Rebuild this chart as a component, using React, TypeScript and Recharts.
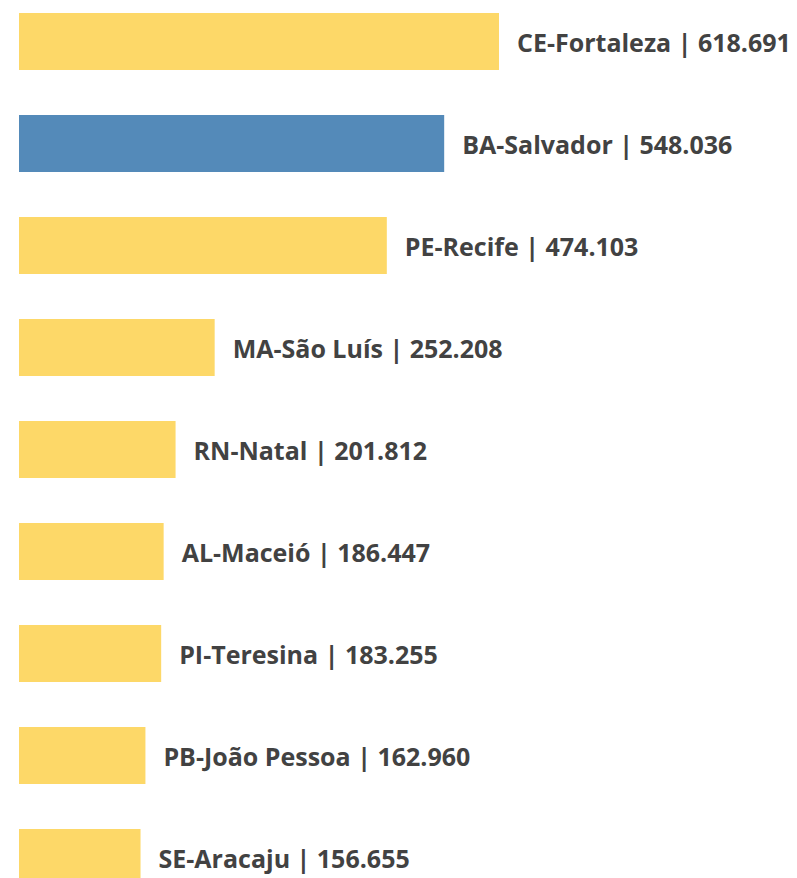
import React from 'react';
import { BarChart, Bar, XAxis, YAxis, Cell, LabelList } from 'recharts';

const cities = ['CE-Fortaleza', 'BA-Salvador', 'PE-Recife', 'MA-São Luís', 'RN-Natal', 'AL-Maceió', 'PI-Teresina', 'PB-João Pessoa', 'SE-Aracaju'];
const values = [618691, 548036, 474103, 252208, 201812, 186447, 183255, 162960, 156655];
const highlight = 'BA-Salvador';

const YELLOW = '#FDD868';
const BLUE = '#548AB9';

const fmt = (v: number) => String(v).replace(/\B(?=(\d{3})+(?!\d))/g, '.');

const data = cities.map((name, i) => ({ name, value: values[i] }));
const maxVal = Math.max(...values);

const renderLabel = (props: any) => {
  const { x, y, width, height, index } = props;
  const d = data[index];
  return (
    <text
      x={x + width + 18}
      y={y + height / 2}
      dominantBaseline="central"
      fill="#424242"
      fontFamily="'Open Sans', sans-serif"
      fontWeight={700}
      fontSize={25}
    >
      {`${d.name} | ${fmt(d.value)}`}
    </text>
  );
};

export default function App() {
  return (
    <div style={{ position: 'fixed', left: 0, top: 0, width: 797, height: 878, overflow: 'hidden', background: '#fff' }}>
      <div style={{ position: 'absolute', left: 0, top: -10.5 }}>
        <BarChart
          width={797}
          height={918}
          data={data}
          layout="vertical"
          margin={{ top: 0, right: 298, bottom: 0, left: 19 }}
          barCategoryGap={45}
        >
          <XAxis type="number" domain={[0, maxVal]} hide />
          <YAxis type="category" dataKey="name" hide width={0} />
          <Bar dataKey="value" barSize={57} isAnimationActive={false}>
            {data.map((d) => (
              <Cell key={d.name} fill={d.name === highlight ? BLUE : YELLOW} />
            ))}
            <LabelList dataKey="value" content={renderLabel} />
          </Bar>
        </BarChart>
      </div>
    </div>
  );
}
